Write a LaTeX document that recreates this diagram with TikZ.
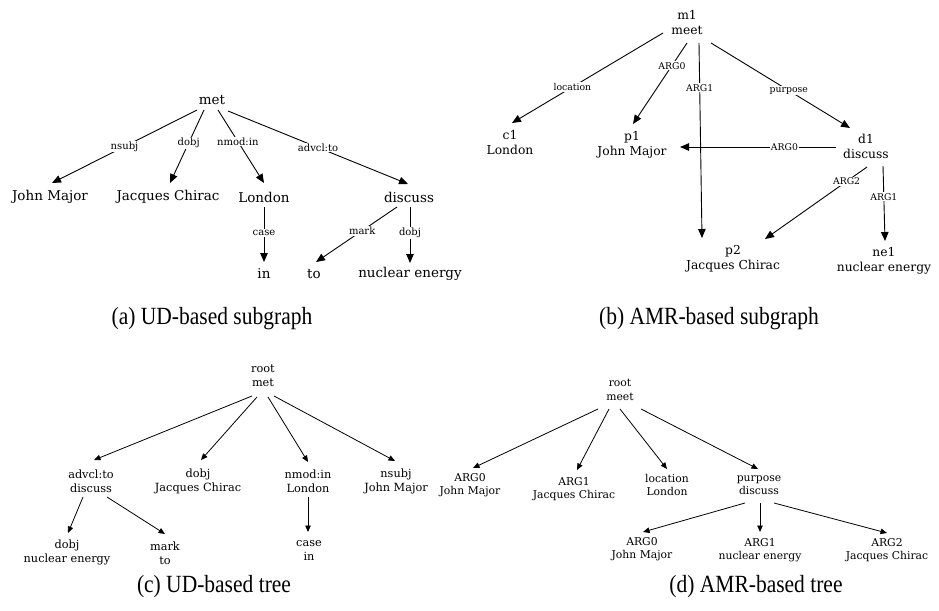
\documentclass[tikz,border=0pt]{standalone}
\usepackage{fontspec}
\setmainfont{DejaVu Serif}
\newfontfamily\capfont{Liberation Serif}
\usetikzlibrary{arrows.meta}
\tikzset{
  big/.style={inner sep=0pt, align=center, font=\fontsize{13.5}{16}\selectfont},
  mid/.style={inner sep=0pt, align=center, font=\fontsize{12.3}{15}\selectfont},
  tc/.style={inner sep=0pt, align=center, font=\fontsize{11.3}{14}\selectfont},
  td/.style={inner sep=0pt, align=center, font=\fontsize{10.8}{13.5}\selectfont},
  lblA/.style={fill=white, inner sep=1pt, font=\fontsize{10}{12}\selectfont},
  lblB/.style={fill=white, inner sep=1pt, font=\fontsize{9.3}{11}\selectfont},
  edgeL/.style={draw=black, line width=0.9pt, -{Triangle[length=9pt,width=7.5pt]}},
  edgeS/.style={draw=black, line width=0.8pt, -{Triangle[length=6.5pt,width=5.5pt]}},
  subcap/.style={inner sep=0pt, font=\capfont\fontsize{21.5}{26}\selectfont}
}
% sub-figure captions, set slightly taller than wide
\newcommand{\subcaptext}[1]{\scalebox{1}[1.15]{#1}}
\begin{document}
\begin{tikzpicture}[x=1pt,y=-1pt]
\useasboundingbox (0,0) rectangle (939,610);

% ---------- (a) UD-based subgraph ----------
\node[big] (met) at (212,100) {met};
\node[big] (jm) at (50,197) {John Major};
\node[big] (jc) at (168,197) {Jacques Chirac};
\node[big] (lon) at (264,197) {London};
\node[big] (disc) at (409,197) {discuss};
\node[big] (in) at (264,274) {in};
\node[big] (to) at (314,274) {to};
\node[big] (ne) at (410,274) {nuclear energy};

\draw[edgeL] ([shift={(-15,10)}]met.center) -- node[lblA]{nsubj} ([shift={(2,-14)}]jm.center);
\draw[edgeL] ([shift={(-8,10)}]met.center) -- node[lblA,pos=0.45]{dobj} ([shift={(2,-14)}]jc.center);
\draw[edgeL] ([shift={(6,10)}]met.center) -- node[lblA,pos=0.43]{nmod:in} ([shift={(0,-14)}]lon.center);
\draw[edgeL] ([shift={(16,11)}]met.center) -- node[lblA]{advcl:to} ([shift={(-1,-13)}]disc.center);
\draw[edgeL] ([shift={(0,10)}]lon.center) -- node[lblA,pos=0.47]{case} ([shift={(0,-12)}]in.center);
\draw[edgeL] ([shift={(-12,10)}]disc.center) -- node[lblA,pos=0.43]{mark} ([shift={(2,-12)}]to.center);
\draw[edgeL] ([shift={(1,10)}]disc.center) -- node[lblA,pos=0.46]{dobj} ([shift={(0,-11)}]ne.center);

\node[subcap] (capa) at (212,319) {\subcaptext{(a) UD-based subgraph}};

% ---------- (b) AMR-based subgraph ----------
\node[mid] (m1) at (687,22.5) {m1\\meet};
\node[mid] (c1) at (510,142.5) {c1\\London};
\node[mid] (p1) at (632,145) {p1\\John Major};
\node[mid] (d1) at (866,146) {d1\\discuss};
\node[mid] (p2) at (733,258.5) {p2\\Jacques Chirac};
\node[mid] (ne1) at (884,260.5) {ne1\\nuclear energy};

\draw[edgeL] ([shift={(-24,10.5)}]m1.center) -- node[lblB,pos=0.6]{location} ([shift={(2,-19.5)}]c1.center);
\draw[edgeL] ([shift={(0,20.5)}]m1.center) -- node[lblB,pos=0.28]{ARG0} ([shift={(1,-21)}]p1.center);
\draw[edgeL] ([shift={(12,20.5)}]m1.center) -- node[lblB,pos=0.23]{ARG1} ([shift={(-31,-20.5)}]p2.center);
\draw[edgeL] ([shift={(24,20.5)}]m1.center) -- node[lblB,pos=0.56]{purpose} ([shift={(-16,-18)}]d1.center);
\draw[edgeL] ([shift={(-30,1)}]d1.center) -- node[lblB,pos=0.33]{ARG0} ([shift={(48,2)}]p1.center);
\draw[edgeL] ([shift={(1,21)}]d1.center) -- node[lblB,pos=0.2]{ARG2} ([shift={(32,-19.5)}]p2.center);
\draw[edgeL] ([shift={(17,20)}]d1.center) -- node[lblB,pos=0.41]{ARG1} ([shift={(1,-19.5)}]ne1.center);

\node[subcap] (capb) at (709,319) {\subcaptext{(b) AMR-based subgraph}};

% ---------- (c) UD-based tree ----------
\node[tc] (r1) at (263,376) {root\\met};
\node[tc] (advcl) at (91,481) {advcl:to\\discuss};
\node[tc] (dobjc) at (198,481) {dobj\\Jacques Chirac};
\node[tc] (nmod) at (308,481) {nmod:in\\London};
\node[tc] (nsubj) at (396,481) {nsubj\\John Major};
\node[tc] (dobjn) at (67,552) {dobj\\nuclear energy};
\node[tc] (mark) at (165,553) {mark\\to};
\node[tc] (case) at (309,550) {case\\in};

\draw[edgeS] ([shift={(-11,20)}]r1.center) -- ([shift={(3,-21)}]advcl.center);
\draw[edgeS] ([shift={(-6,21)}]r1.center) -- ([shift={(3,-21)}]dobjc.center);
\draw[edgeS] ([shift={(5,21)}]r1.center) -- ([shift={(0,-19)}]nmod.center);
\draw[edgeS] ([shift={(11,20)}]r1.center) -- ([shift={(-1,-20)}]nsubj.center);
\draw[edgeS] ([shift={(-8,16)}]advcl.center) -- ([shift={(1,-19)}]dobjn.center);
\draw[edgeS] ([shift={(16,16)}]advcl.center) -- ([shift={(0,-19)}]mark.center);
\draw[edgeS] ([shift={(0,16)}]nmod.center) -- ([shift={(-1,-18)}]case.center);

\node[subcap] (capc) at (214,587) {\subcaptext{(c) UD-based tree}};

% ---------- (d) AMR-based tree ----------
\node[td] (r2) at (620,390) {root\\meet};
\node[td] (a0) at (470,485) {ARG0\\John Major};
\node[td] (a1) at (574,489) {ARG1\\Jacques Chirac};
\node[td] (loc) at (667,485) {location\\London};
\node[td] (pur) at (759,485) {purpose\\discuss};
\node[td] (b0) at (642,549) {ARG0\\John Major};
\node[td] (b1) at (760,550) {ARG1\\nuclear energy};
\node[td] (b2) at (887,550) {ARG2\\Jacques Chirac};

\draw[edgeS] ([shift={(-22,19)}]r2.center) -- ([shift={(3,-17)}]a0.center);
\draw[edgeS] ([shift={(-11,19)}]r2.center) -- ([shift={(3,-19)}]a1.center);
\draw[edgeS] ([shift={(0,19)}]r2.center) -- ([shift={(0,-16)}]loc.center);
\draw[edgeS] ([shift={(21,19)}]r2.center) -- ([shift={(-1,-16)}]pur.center);
\draw[edgeS] ([shift={(-14,18)}]pur.center) -- ([shift={(1,-17)}]b0.center);
\draw[edgeS] ([shift={(1,18)}]pur.center) -- ([shift={(0,-18)}]b1.center);
\draw[edgeS] ([shift={(15,18)}]pur.center) -- ([shift={(0,-17)}]b2.center);

\node[subcap] (capd) at (756,587) {\subcaptext{(d) AMR-based tree}};
\end{tikzpicture}
\end{document}
